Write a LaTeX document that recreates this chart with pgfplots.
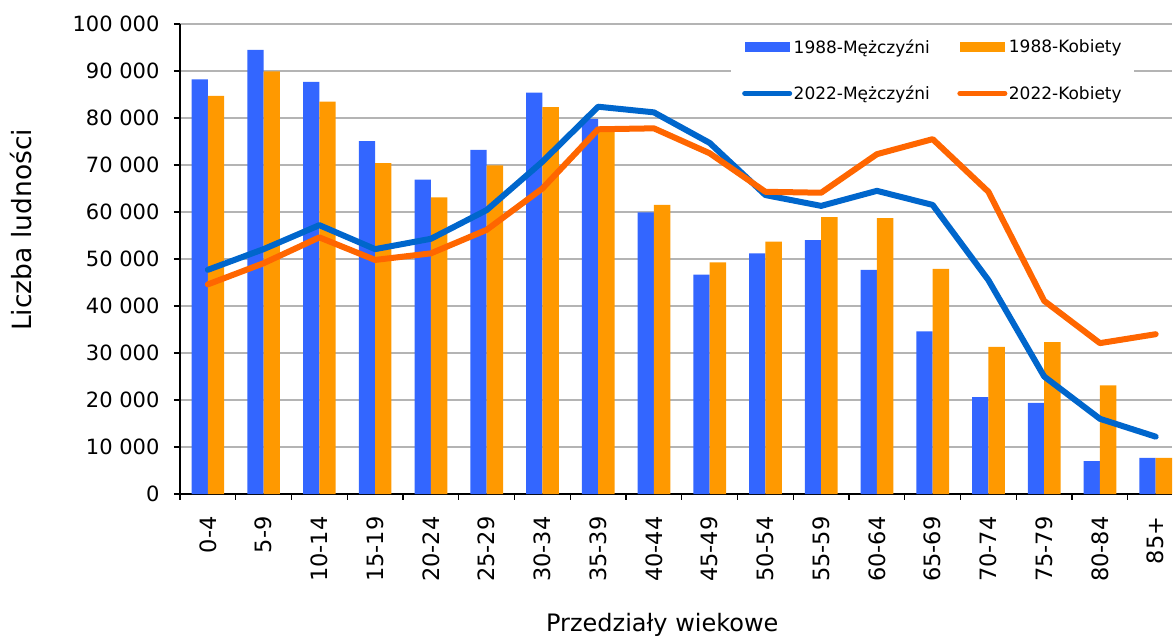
\documentclass[border=0pt]{standalone}
\usepackage{fontspec}
\setmainfont{DejaVu Sans}
\usepackage{pgfplots}
\pgfplotsset{compat=1.18}
\definecolor{m88}{HTML}{3366FF}
\definecolor{k88}{HTML}{FF9900}
\definecolor{m22}{HTML}{0066CC}
\definecolor{k22}{HTML}{FF6600}
\definecolor{gridc}{HTML}{B4B4B4}
\begin{document}
\begin{tikzpicture}
\begin{axis}[
  at={(0pt,0pt)}, anchor=south west,
  scale only axis, width=992.4pt, height=470pt,
  xmin=-0.5, xmax=17.3, ymin=0, ymax=100000,
  scaled y ticks=false,
  axis x line*=bottom, axis y line*=left,
  axis line style={black, line width=1.2pt},
  xtick={0,...,17},
  xticklabels={0-4,5-9,10-14,15-19,20-24,25-29,30-34,35-39,40-44,45-49,50-54,55-59,60-64,65-69,70-74,75-79,80-84,85+},
  minor xtick={-0.5,0.5,...,16.5},
  major x tick style={draw=none},
  minor x tick style={black, line width=1.2pt},
  ytick={0,10000,...,100000},
  yticklabels={0,10 000,20 000,30 000,40 000,50 000,60 000,70 000,80 000,90 000,100 000},
  y tick style={black, line width=1.2pt},
  tick align=outside, major tick length=6pt, minor tick length=6pt,
  ymajorgrids, grid style={gridc, line width=1.3pt},
  yticklabel style={font=\fontsize{21}{25}\selectfont, xshift=-11pt},
  xticklabel style={font=\fontsize{22.5}{26}\selectfont, rotate=90, anchor=east, xshift=-13pt},
  xlabel={Przedziały wiekowe}, ylabel={Liczba ludności},
  xlabel style={font=\fontsize{24}{28}\selectfont, at={(axis description cs:0.486,-0.293)}, anchor=base},
  ylabel style={font=\fontsize{26.5}{30}\selectfont, at={(axis description cs:-0.160,0.562)}, anchor=center, rotate=0},
  legend columns=2, legend cell align=left,
  legend style={at={(axis description cs:0.5552,0.9872)}, anchor=north west,
    draw=none, fill=white, font=\fontsize{17}{20}\selectfont,
    inner xsep=11pt, inner ysep=8pt, row sep=28pt,
    nodes={inner sep=1.5pt},
    /tikz/every even column/.append style={column sep=26pt}},
]
\addplot[ybar, bar width=0.293, bar shift=-0.147, fill=m88, draw=none,
  legend image code/.code={\fill[m88] (0pt,-5pt) rectangle (45pt,5pt);}]
  coordinates {(0,88200)(1,94500)(2,87700)(3,75100)(4,66900)(5,73200)(6,85400)(7,79800)(8,59900)(9,46700)(10,51200)(11,54000)(12,47700)(13,34600)(14,20600)(15,19400)(16,7000)(17,7700)};
\addlegendentry{1988-Mężczyźni}
\addplot[ybar, bar width=0.293, bar shift=0.147, fill=k88, draw=none,
  legend image code/.code={\fill[k88] (0pt,-5pt) rectangle (45pt,5pt);}]
  coordinates {(0,84700)(1,89900)(2,83500)(3,70400)(4,63100)(5,69900)(6,82300)(7,77300)(8,61500)(9,49300)(10,53700)(11,58900)(12,58700)(13,47900)(14,31300)(15,32300)(16,23100)(17,7700)};
\addlegendentry{1988-Kobiety}
\addplot[m22, line width=6pt, line join=round, line cap=round, mark=none,
  legend image code/.code={\draw[m22, line width=5pt, line cap=round] (0pt,0pt) -- (45pt,0pt);}]
  coordinates {(0,47700)(1,52100)(2,57200)(3,52100)(4,54300)(5,60400)(6,70700)(7,82400)(8,81200)(9,74700)(10,63600)(11,61300)(12,64500)(13,61500)(14,45500)(15,25000)(16,16000)(17,12200)};
\addlegendentry{2022-Mężczyźni}
\addplot[k22, line width=6pt, line join=round, line cap=round, mark=none,
  legend image code/.code={\draw[k22, line width=5pt, line cap=round] (0pt,0pt) -- (45pt,0pt);}]
  coordinates {(0,44600)(1,49100)(2,54600)(3,49800)(4,51200)(5,56200)(6,65000)(7,77600)(8,77800)(9,72500)(10,64300)(11,64100)(12,72300)(13,75500)(14,64300)(15,41100)(16,32100)(17,34000)};
\addlegendentry{2022-Kobiety}
\end{axis}
\pgfresetboundingbox
\path[use as bounding box] (-180pt,-143pt) rectangle (993pt,494pt);
\end{tikzpicture}
\end{document}
